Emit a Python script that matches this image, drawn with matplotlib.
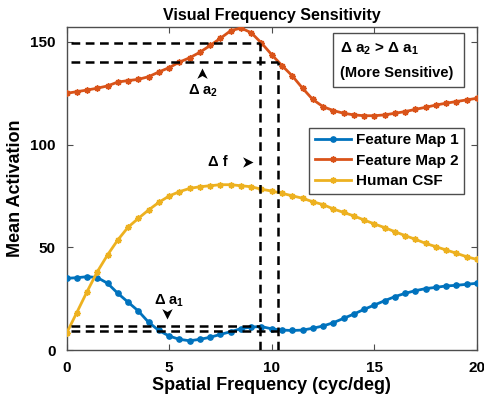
import numpy as np
import matplotlib
matplotlib.use("Agg")
import matplotlib.pyplot as plt
from matplotlib.path import Path
from matplotlib.patches import Rectangle

plt.rcParams['font.family'] = ['Liberation Sans', 'DejaVu Sans']
plt.rcParams['font.weight'] = 'bold'

# ---------------- data ----------------
freq = np.arange(0, 20.01, 0.5)

feature_map_1 = [34.9, 35.2, 35.7, 35.3, 32.5, 27.6, 23.3, 19.0, 13.5, 9.5,
                 6.8, 5.2, 4.5, 5.2, 6.2, 7.6, 8.9, 10.4, 11.2, 11.4,
                 10.3, 9.7, 9.5, 9.7, 10.6, 11.7, 13.3, 15.4, 17.5, 19.8,
                 21.9, 24.0, 26.0, 27.6, 28.9, 29.9, 30.5, 31.2, 31.5, 32.0, 32.5]

feature_map_2 = [125.0, 125.8, 126.6, 127.5, 128.6, 130.5, 131.2, 131.8, 133.1, 135.4,
                 137.5, 140.2, 142.3, 145.0, 148.3, 151.8, 155.5, 156.8, 154.5, 149.5,
                 143.8, 138.5, 133.5, 127.5, 122.0, 118.5, 116.6, 115.3, 114.5, 114.1,
                 114.1, 114.5, 115.3, 116.1, 117.2, 118.2, 119.3, 120.2, 121.0, 121.8, 122.6]

human_csf = [8.1, 18.2, 28.4, 38.1, 46.3, 53.6, 59.8, 64.1, 68.2, 71.9,
             75.0, 77.1, 78.7, 79.5, 80.0, 80.5, 80.5, 80.0, 79.5, 78.3,
             77.4, 76.3, 75.1, 73.9, 72.2, 70.8, 68.7, 67.0, 65.3, 63.3,
             61.4, 59.6, 57.6, 55.7, 53.9, 51.9, 50.3, 48.7, 47.1, 45.4, 44.1]

series_names = ['Feature Map 1', 'Feature Map 2', 'Human CSF']
colors = ['#0072BD', '#D95319', '#EDB120']

# reference (dashed) guide values
f_low, f_high = 9.45, 10.3
a2_high, a2_low = 149.4, 140.2
a1_high, a1_low = 11.7, 9.3
guide_start = 0.2

xticks = [0, 5, 10, 15, 20]
yticks = [0, 50, 100, 150]

# ---------------- figure ----------------
fig = plt.figure(figsize=(4.85, 3.96), dpi=100)
ax = fig.add_axes([66.5 / 485, 46 / 396, 410.5 / 485, 323 / 396])

ast = (8, 2, 0)
ax.plot(freq, feature_map_1, '-', color=colors[0], lw=2.0, marker='o', ms=3.8,
        label=series_names[0], zorder=3)
ax.plot(freq, feature_map_2, '-', color=colors[1], lw=2.0, marker=ast, ms=4.5, mew=1.1,
        label=series_names[1], zorder=3)
ax.plot(freq, human_csf, '-', color=colors[2], lw=2.0, marker=ast, ms=4.5, mew=1.1,
        label=series_names[2], zorder=3)

dash_kw = dict(color='black', lw=1.8, dashes=(3.5, 2.2), zorder=4)
ax.plot([guide_start, f_low], [a2_high, a2_high], **dash_kw)
ax.plot([guide_start, f_high], [a2_low, a2_low], **dash_kw)
ax.plot([f_low, f_low], [0, a2_high], **dash_kw)
ax.plot([f_high, f_high], [0, a2_low], **dash_kw)
ax.plot([guide_start, f_low], [a1_high, a1_high], **dash_kw)
ax.plot([guide_start, f_high], [a1_low, a1_low], **dash_kw)

# arrowheads (vback style) as custom markers, tip at the data point
def head(direction):
    v = np.array([[0, 0], [-0.5, -1.0], [0, -0.72], [0.5, -1.0], [0, 0]])
    if direction == 'down':
        v[:, 1] = -v[:, 1]
    elif direction == 'right':
        v = np.column_stack([-v[:, 1], v[:, 0]])
        v[:, 0] = -v[:, 0]
    return Path(v, [Path.MOVETO, Path.LINETO, Path.LINETO, Path.LINETO, Path.CLOSEPOLY])

ax.plot([6.58], [137.2], marker=head('up'), ms=15, color='black', mew=0, zorder=5)
ax.plot([4.9], [15.1], marker=head('down'), ms=15, color='black', mew=0, zorder=5)
ax.plot([9.09], [91.7], marker=head('right'), ms=15, color='black', mew=0, zorder=5)

ann_fs = 10.5
ax.text(5.91, 124.2, r'Δ a$\mathregular{_2}$', fontsize=ann_fs, ha='left', va='baseline')
ax.text(4.27, 21.9, r'Δ a$\mathregular{_1}$', fontsize=ann_fs, ha='left', va='baseline')
ax.text(6.9, 89.6, 'Δ f', fontsize=ann_fs, ha='left', va='baseline')

# text box upper right
x0 = (333 - 66.5) / 410.5
x1 = (464 - 66.5) / 410.5
y0 = (350 - 86.7) / 323
y1 = (350 - 32.7) / 323
ax.add_patch(Rectangle((x0, y0), x1 - x0, y1 - y0, transform=ax.transAxes,
                       fill=True, facecolor='white', edgecolor='#4d4d4d', lw=1.0, zorder=6))
tx = (340 - 66.5) / 410.5
ax.text(tx, (350 - 53) / 323, r'Δ a$\mathregular{_2}$ > Δ a$\mathregular{_1}$',
        transform=ax.transAxes, fontsize=11, ha='left', va='baseline', zorder=7)
ax.text(tx, (350 - 77) / 323, '(More Sensitive)',
        transform=ax.transAxes, fontsize=10.5, ha='left', va='baseline', zorder=7)

ax.set_xlim(0, 20)
ax.set_ylim(0, 157.3)
ax.set_xticks(xticks)
ax.set_yticks(yticks)
ax.tick_params(direction='in', top=True, right=True, length=4, width=0.8,
               labelsize=11, pad=8, color='#4d4d4d')
for lab in ax.get_xticklabels() + ax.get_yticklabels():
    lab.set_fontweight('bold')
for s in ax.spines.values():
    s.set_color('#4d4d4d')
    s.set_linewidth(1.0)

ax.set_title('Visual Frequency Sensitivity', fontsize=11.5, fontweight='bold', pad=5)
ax.set_xlabel('Spatial Frequency (cyc/deg)', fontsize=13, fontweight='bold', labelpad=1)
ax.set_ylabel('Mean Activation', fontsize=13, fontweight='bold', labelpad=4)

leg = ax.legend(loc='upper right', bbox_to_anchor=((464 - 66.5) / 410.5, (350 - 128) / 323),
                borderaxespad=0, fontsize=11, handlelength=2.4, handletextpad=0.3,
                labelspacing=0.42, borderpad=0.35, fancybox=False, framealpha=1,
                edgecolor='#4d4d4d')
leg.get_frame().set_linewidth(1.0)
leg.set_zorder(8)

fig.savefig('out.png', dpi=100)
